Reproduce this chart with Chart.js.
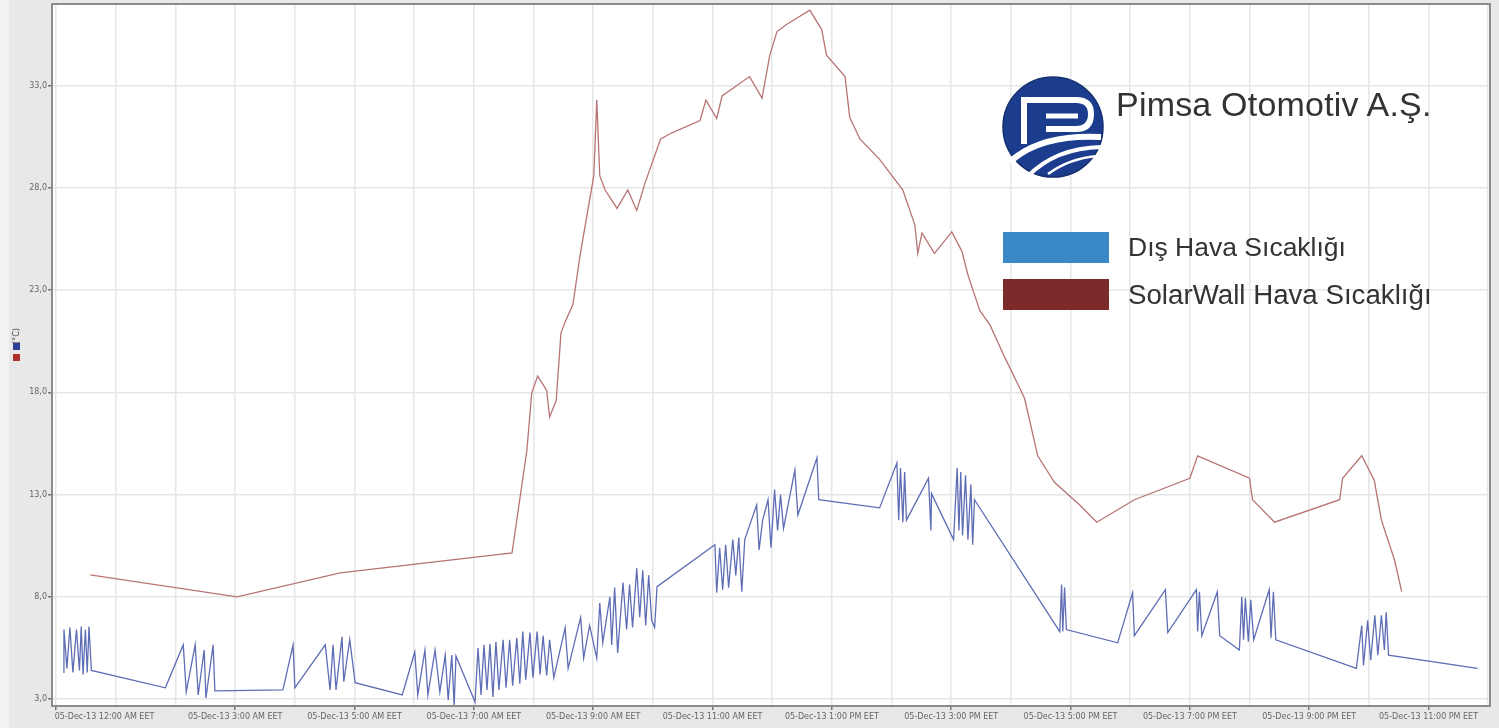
<!DOCTYPE html>
<html>
<head>
<meta charset="utf-8">
<script src="https://cdn.jsdelivr.net/npm/chart.js@4.4.1/dist/chart.umd.min.js"></script>
<style>
  body { margin: 0; background: #e8e8e8; }
  #wrap { position: relative; width: 1499px; height: 728px; }
  #overlay { position: absolute; left: 0; top: 0; pointer-events: none; }
</style>
</head>
<body>
<div id="wrap">
  <canvas id="chart" width="1499" height="728"></canvas>
  <svg id="overlay" width="1499" height="728" xmlns="http://www.w3.org/2000/svg">
    <!-- logo -->
    <circle cx="1053" cy="127" r="50" fill="#1c3d8e" stroke="#15306e" stroke-width="1.5"/>
    <path d="M1021 100 H1076 Q1091 100 1091 114 Q1091 129 1076 129 H1046" stroke="#fff" stroke-width="6" fill="none"/>
    <path d="M1024 98 V144" stroke="#fff" stroke-width="6"/>
    <path d="M1046 116 H1078" stroke="#fff" stroke-width="5"/>
    <path d="M1010 162 Q1040 134 1101 137" stroke="#fff" stroke-width="6" fill="none"/>
    <path d="M1028 176 Q1056 148 1101 147" stroke="#fff" stroke-width="4" fill="none"/>
    <path d="M1048 174 Q1070 158 1098 156" stroke="#fff" stroke-width="2.5" fill="none"/>
    <text x="1116" y="116" font-family="Liberation Sans, Arial, sans-serif" font-size="34" letter-spacing="0.2" fill="#333">Pimsa Otomotiv A.Ş.</text>
    <!-- legend -->
    <rect x="1003" y="232" width="106" height="31" fill="#3a88c5"/>
    <text x="1128" y="256" font-family="Liberation Sans, Arial, sans-serif" font-size="26.5" fill="#333">Dış Hava Sıcaklığı</text>
    <rect x="1003" y="279" width="106" height="31" fill="#7d2a2b"/>
    <text x="1128" y="304" font-family="Liberation Sans, Arial, sans-serif" font-size="27.7" fill="#333">SolarWall Hava Sıcaklığı</text>
  </svg>
</div>
<script>
// ---- data (x = hours since 05-Dec-13 00:00 EET, y = °C) ----
const SOLAR_HOURS = [0.57, 3.03, 4.76, 7.64, 7.89, 7.97, 8.07, 8.22, 8.27, 8.38, 8.46, 8.53, 8.66, 8.78, 9.01, 9.06, 9.11, 9.2, 9.4, 9.58, 9.73, 9.87, 10.13, 10.32, 10.79, 10.89, 11.07, 11.16, 11.62, 11.83, 11.96, 12.08, 12.24, 12.63, 12.83, 12.91, 13.22, 13.3, 13.47, 13.8, 14.19, 14.39, 14.44, 14.51, 14.72, 15.01, 15.18, 15.28, 15.48, 15.65, 15.9, 16.15, 16.23, 16.45, 16.73, 17.15, 17.44, 18.07, 19.0, 19.13, 20.0, 20.05, 20.42, 21.51, 21.56, 21.88, 22.09, 22.21, 22.43, 22.55];
const SOLAR_TEMPS = [9.07, 8.0, 9.17, 10.15, 15.2, 17.98, 18.8, 18.1, 16.8, 17.6, 20.9, 21.45, 22.3, 24.7, 28.6, 32.3, 28.6, 27.9, 27.0, 27.9, 26.9, 28.25, 30.4, 30.7, 31.3, 32.3, 31.4, 32.5, 33.45, 32.4, 34.5, 35.65, 36.0, 36.7, 35.75, 34.5, 33.45, 31.45, 30.4, 29.4, 27.9, 26.2, 24.8, 25.8, 24.8, 25.85, 24.9, 23.75, 22.0, 21.3, 19.7, 18.2, 17.7, 14.9, 13.6, 12.5, 11.65, 12.75, 13.8, 14.9, 13.8, 12.75, 11.65, 12.75, 13.8, 14.9, 13.7, 11.75, 9.8, 8.25];

const OUTDOOR_HOURS = [
  0.12, 0.13, 0.18, 0.23, 0.28, 0.34, 0.39, 0.42, 0.45, 0.49, 0.52, 0.55, 0.59,
  1.83, 2.13, 2.18, 2.33, 2.38, 2.48, 2.51, 2.63, 2.66,
  3.8, 3.97, 4.0, 4.51, 4.59, 4.64, 4.69, 4.79, 4.82, 4.92, 5.01,
  5.8, 6.01, 6.06, 6.18, 6.23, 6.35, 6.43, 6.52, 6.57, 6.63, 6.67, 6.7,
  7.02, 7.07, 7.12, 7.17, 7.22, 7.27, 7.32, 7.37, 7.42, 7.49, 7.54, 7.6, 7.65, 7.72, 7.77, 7.82, 7.87, 7.94, 7.99, 8.06, 8.11, 8.16, 8.22, 8.27, 8.34,
  8.53, 8.58, 8.79, 8.84, 8.94, 9.06, 9.11, 9.16, 9.28, 9.31, 9.36, 9.41, 9.5, 9.56, 9.61, 9.66, 9.73, 9.78, 9.83, 9.88, 9.93, 9.98, 10.03, 10.07,
  11.04, 11.07, 11.12, 11.17, 11.22, 11.27, 11.34, 11.39, 11.44, 11.49, 11.54,
  11.74, 11.78, 11.84, 11.93, 11.98, 12.04, 12.09, 12.14, 12.19, 12.38, 12.43, 12.75, 12.78,
  13.8, 14.09, 14.12, 14.15, 14.19, 14.22, 14.25, 14.62, 14.66, 14.67, 15.04, 15.1, 15.13, 15.16, 15.19, 15.24, 15.28, 15.33, 15.36, 15.39,
  16.82, 16.85, 16.87, 16.9, 16.93, 17.79, 18.04, 18.07, 18.59, 18.63, 19.11, 19.13, 19.16, 19.2, 19.46, 19.5,
  19.83, 19.87, 19.9, 19.93, 19.98, 20.02, 20.07, 20.33, 20.36, 20.4, 20.44,
  21.79, 21.88, 21.91, 21.98, 22.03, 22.1, 22.15, 22.21, 22.26, 22.29, 22.33, 23.82
];
const OUTDOOR_TEMPS = [
  4.3, 6.4, 4.5, 6.5, 4.3, 6.4, 4.4, 6.55, 4.2, 6.4, 4.3, 6.55, 4.4,
  3.55, 5.65, 3.35, 5.65, 3.2, 5.4, 3.05, 5.65, 3.4,
  3.45, 5.65, 3.55, 5.65, 3.45, 5.65, 3.45, 6.05, 3.85, 5.9, 3.8,
  3.2, 5.3, 3.2, 5.4, 3.2, 5.4, 3.35, 5.15, 2.95, 5.15, 2.7, 5.1,
  2.85, 5.5, 3.2, 5.65, 3.45, 5.7, 3.1, 5.8, 3.45, 5.9, 3.55, 5.9, 3.65, 6.0, 3.75, 6.3, 3.95, 6.25, 4.05, 6.3, 4.2, 6.1, 4.15, 5.9, 4.05,
  6.48, 4.5, 7.0, 5.0, 6.6, 5.0, 7.7, 5.75, 8.0, 5.65, 8.45, 5.25, 8.7, 6.4, 8.6, 6.5, 9.4, 7.0, 9.3, 6.6, 9.05, 6.85, 6.5, 8.5,
  10.55, 8.2, 10.4, 8.35, 10.55, 8.45, 10.8, 9.05, 10.9, 8.25, 10.8,
  12.5, 10.3, 11.75, 12.75, 10.4, 13.25, 11.25, 13.0, 11.35, 14.2, 12.0, 14.8, 12.75,
  12.35, 14.55, 11.75, 14.3, 11.65, 14.1, 11.75, 13.8, 11.25, 13.05, 10.8, 14.3, 11.25, 14.1, 11.0, 13.95, 10.8, 13.5, 10.55, 12.75,
  6.3, 8.6, 6.3, 8.45, 6.4, 5.75, 8.2, 6.1, 8.35, 6.25, 8.35, 6.3, 8.25, 6.1, 8.25, 6.1,
  5.4, 8.0, 5.9, 7.95, 5.8, 7.85, 5.9, 8.35, 6.0, 8.25, 5.9,
  4.5, 6.6, 4.65, 6.85, 4.9, 7.1, 5.15, 7.1, 5.4, 7.25, 5.15, 4.5
];

const Y_TICKS = [3, 8, 13, 18, 23, 28, 33];
const Y_TICK_LABELS = ['3,0', '8,0', '13,0', '18,0', '23,0', '28,0', '33,0'];
const X_TICK_HOURS = [0, 3, 5, 7, 9, 11, 13, 15, 17, 19, 21, 23];
const X_TICK_LABELS = [
  '05-Dec-13 12:00 AM EET', '05-Dec-13 3:00 AM EET', '05-Dec-13 5:00 AM EET', '05-Dec-13 7:00 AM EET',
  '05-Dec-13 9:00 AM EET', '05-Dec-13 11:00 AM EET', '05-Dec-13 1:00 PM EET', '05-Dec-13 3:00 PM EET',
  '05-Dec-13 5:00 PM EET', '05-Dec-13 7:00 PM EET', '05-Dec-13 9:00 PM EET', '05-Dec-13 11:00 PM EET'
];
const GRID_HOURS = Array.from({ length: 25 }, (_, i) => i);

const SERIES = [
  { label: 'Dış Hava Sıcaklığı', xs: OUTDOOR_HOURS, ys: OUTDOOR_TEMPS, color: '#5f6db5' },
  { label: 'SolarWall Hava Sıcaklığı', xs: SOLAR_HOURS, ys: SOLAR_TEMPS, color: '#b87474' }
];

// fondo gris + area blanca + borde + titulo del eje Y
const frame = {
  id: 'frame',
  beforeDraw(chart) {
    const { ctx, chartArea: a } = chart;
    ctx.save();
    ctx.fillStyle = '#e8e8e8';
    ctx.fillRect(0, 0, chart.width, chart.height);
    ctx.fillStyle = '#f2f2f2';
    ctx.fillRect(0, 0, 9, chart.height);
    ctx.fillStyle = '#ffffff';
    ctx.fillRect(a.left, a.top, a.right - a.left, a.bottom - a.top);
    ctx.restore();
  },
  afterDraw(chart) {
    const { ctx, chartArea: a } = chart;
    ctx.save();
    ctx.strokeStyle = '#8c8c8c';
    ctx.lineWidth = 2;
    ctx.strokeRect(a.left, a.top, a.right - a.left, a.bottom - a.top);
    // (°C) + small series swatches
    ctx.translate(17, 336);
    ctx.rotate(-Math.PI / 2);
    ctx.font = '8px "DejaVu Sans", sans-serif';
    ctx.fillStyle = '#444';
    ctx.textAlign = 'center';
    ctx.textBaseline = 'middle';
    ctx.fillText('(°C)', 0, 0);
    ctx.restore();
    ctx.save();
    ctx.fillStyle = '#2f3f99';
    ctx.fillRect(13, 343, 7, 7);
    ctx.fillStyle = '#b03030';
    ctx.fillRect(13, 354, 7, 7);
    ctx.restore();
  }
};

// the first date label sits to the right of its tick, like in the original
const FIRST_LABEL_PAD = ' '.repeat(38);

new Chart(document.getElementById('chart'), {
  type: 'line',
  data: {
    datasets: SERIES.map(s => ({
      label: s.label,
      data: s.xs.map((x, i) => ({ x, y: s.ys[i] })),
      borderColor: s.color,
      borderWidth: 1.3,
      pointRadius: 0,
      tension: 0,
      fill: false
    }))
  },
  options: {
    responsive: false,
    animation: false,
    layout: { padding: { top: 4, right: 9, left: 0, bottom: 0 } },
    plugins: { legend: { display: false }, tooltip: { enabled: false } },
    scales: {
      x: {
        type: 'linear',
        min: -0.07,
        max: 24.03,
        afterBuildTicks: s => { s.ticks = GRID_HOURS.map(v => ({ value: v })); },
        afterFit: s => { s.height = 22; s.paddingLeft = 0; s.paddingRight = 0; },
        border: { display: false },
        grid: {
          color: '#e6e6e6',
          lineWidth: 1.5,
          tickLength: 4,
          tickColor: c => (c.tick && X_TICK_HOURS.includes(c.tick.value)) ? '#777' : 'rgba(0,0,0,0)'
        },
        ticks: {
          autoSkip: false,
          maxRotation: 0,
          padding: 2,
          color: '#666',
          font: { size: 8, family: '"DejaVu Sans", sans-serif' },
          callback: v => {
            const i = X_TICK_HOURS.indexOf(v);
            if (i < 0) return '';
            return i === 0 ? FIRST_LABEL_PAD + X_TICK_LABELS[0] : X_TICK_LABELS[i];
          }
        }
      },
      y: {
        min: 2.66,
        max: 37.0,
        afterBuildTicks: s => { s.ticks = Y_TICKS.map(v => ({ value: v })); },
        afterFit: s => { s.width = 52; s.paddingTop = 0; s.paddingBottom = 0; },
        border: { display: false },
        grid: { color: '#e6e6e6', lineWidth: 1.5, tickLength: 4, tickColor: '#777' },
        ticks: {
          padding: 1,
          color: '#666',
          font: { size: 8, family: '"DejaVu Sans", sans-serif' },
          callback: (v, i) => Y_TICK_LABELS[i]
        }
      }
    }
  },
  plugins: [frame]
});
</script>
</body>
</html>
